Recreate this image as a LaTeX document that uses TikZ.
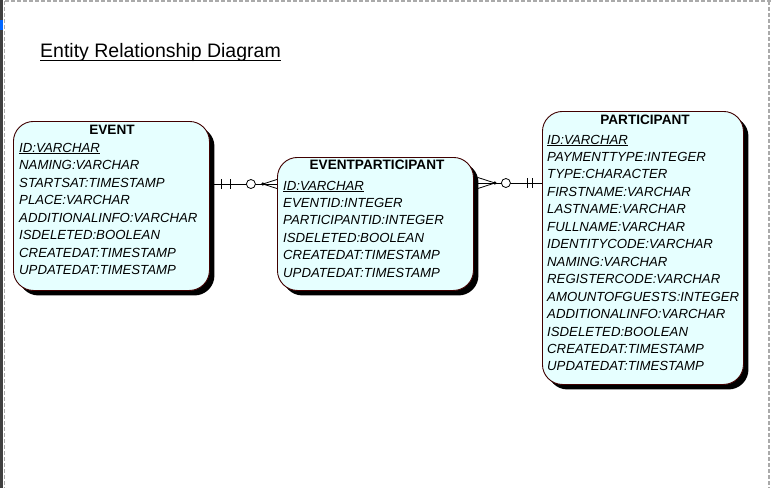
\documentclass[tikz,border=0pt]{standalone}
\usepackage{fontspec}
\setmainfont{Liberation Sans}
\usetikzlibrary{shadows,backgrounds,calc}
\definecolor{entfill}{RGB}{230,255,255}
\definecolor{entline}{RGB}{64,0,0}
\definecolor{framegray}{RGB}{170,170,170}
\tikzset{
  entity/.style={draw=entline, line width=0.9pt, fill=entfill, rounded corners=20pt,
    drop shadow={shadow xshift=5pt, shadow yshift=-5pt, fill=black, opacity=1},
    inner sep=0pt, anchor=north west},
  etitle/.style={font=\fontsize{13.6}{16}\selectfont\bfseries, anchor=base, inner sep=0pt},
  attr/.style={font=\fontsize{13.2}{16}\selectfont\itshape, anchor=base west, inner sep=0pt},
  conn/.style={line width=0.8pt, black},
  frame/.style={framegray, line width=1.5pt, dash pattern=on 4pt off 2pt},
}
\begin{document}
\begin{tikzpicture}[x=1pt,y=-1pt]
\useasboundingbox (0,0) rectangle (771,488);
% page frame
\fill[black!75] (0,0) rectangle (3,488);
\fill[blue!60!cyan] (0,20) rectangle (3,30);
\draw[frame] (5,1) -- (771,1);
\draw[frame] (769,1) -- (769,488);
\draw[frame] (4.5,1) -- (4.5,488);
% title
\node[font=\fontsize{19.5}{22}\selectfont, anchor=base west, inner sep=0pt] (title) at (40,57) {Entity Relationship Diagram};
\draw[line width=1.2pt] ($(title.base west)+(0,3.5)$) -- ($(title.base east)+(0,3.5)$);
% entities
\node[entity, minimum width=196pt, minimum height=169pt] (event) at (13,121) {};
\node[entity, minimum width=196pt, minimum height=133pt] (ep) at (277,157) {};
\node[entity, minimum width=201pt, minimum height=273pt] (part) at (542,111) {};
% EVENT
\node[etitle] (evt) at (112,134) {EVENT};
\foreach [count=\i from 0] \t in {\underline{ID:VARCHAR},NAMING:VARCHAR,STARTSAT:TIMESTAMP,PLACE:VARCHAR,ADDITIONALINFO:VARCHAR,ISDELETED:BOOLEAN,CREATEDAT:TIMESTAMP,UPDATEDAT:TIMESTAMP}
  \node[attr] (ev\i) at (19,152+17.57*\i) {\t};
% EVENTPARTICIPANT
\node[etitle] (ept) at (377,169) {EVENTPARTICIPANT};
\foreach [count=\i from 0] \t in {\underline{ID:VARCHAR},EVENTID:INTEGER,PARTICIPANTID:INTEGER,ISDELETED:BOOLEAN,CREATEDAT:TIMESTAMP,UPDATEDAT:TIMESTAMP}
  \node[attr] (ep\i) at (283,190+17.4*\i) {\t};
% PARTICIPANT
\node[etitle] (pt) at (645,124) {PARTICIPANT};
\foreach [count=\i from 0] \t in {\underline{ID:VARCHAR},PAYMENTTYPE:INTEGER,TYPE:CHARACTER,FIRSTNAME:VARCHAR,LASTNAME:VARCHAR,FULLNAME:VARCHAR,IDENTITYCODE:VARCHAR,NAMING:VARCHAR,REGISTERCODE:VARCHAR,AMOUNTOFGUESTS:INTEGER,ADDITIONALINFO:VARCHAR,ISDELETED:BOOLEAN,CREATEDAT:TIMESTAMP,UPDATEDAT:TIMESTAMP}
  \node[attr] (pa\i) at (547,144+17.46*\i) {\t};
% connectors
\coordinate (l1) at (0,184);
\coordinate (l2) at (0,183);
\coordinate (a) at (event.east|-l1);
\coordinate (b) at (ep.west|-l1);
\coordinate (c) at (ep.east|-l2);
\coordinate (d) at (part.west|-l2);
\begin{scope}[on background layer]
  \draw[conn] (a) -- (b);
  \draw[conn] ($(a)+(11,-5)$) -- ($(a)+(11,5)$);
  \draw[conn] ($(a)+(20,-5)$) -- ($(a)+(20,5)$);
  \draw[conn, fill=white] ($(a)+(41,0)$) circle (4.5);
  \fill ($(a)+(53,0)$) circle (1.8);
  \draw[conn] ($(a)+(53,0)$) -- ($(b)+(3,-5.5)$);
  \draw[conn] ($(a)+(53,0)$) -- ($(b)+(3,5.5)$);
  \draw[conn] (c) -- (d);
  \draw[conn] ($(d)+(-15,-5)$) -- ($(d)+(-15,5)$);
  \draw[conn] ($(d)+(-10,-5)$) -- ($(d)+(-10,5)$);
  \draw[conn, fill=white] ($(c)+(32,0)$) circle (4.5);
  \fill ($(c)+(21,0)$) circle (1.8);
  \draw[conn] ($(c)+(21,0)$) -- ($(c)+(4,-5.5)$);
  \draw[conn] ($(c)+(21,0)$) -- ($(c)+(4,5.5)$);
\end{scope}
\end{tikzpicture}
\end{document}
